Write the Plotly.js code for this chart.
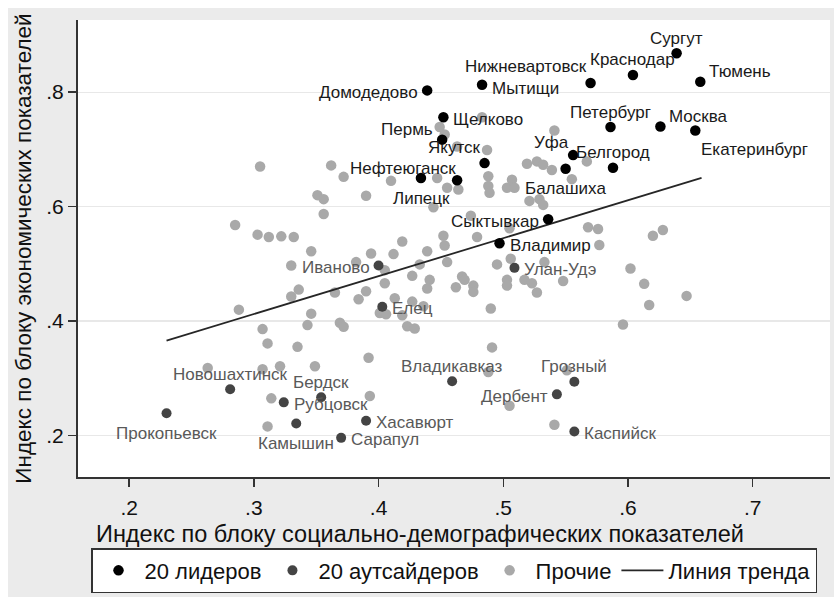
<!DOCTYPE html>
<html><head><meta charset="utf-8">
<script src="https://cdn.plot.ly/plotly-3.0.1.min.js"></script>
<style>html,body{margin:0;padding:0;background:#fff}#chart{position:absolute;left:8px;top:8px;width:826px;height:589px}</style>
</head><body><div id="chart"></div>
<script>
// ---- data ----
const leaderNames = ['Сургут','Краснодар','Тюмень','Нижневартовск','Мытищи','Домодедово','Щелково','Пермь','Петербург','Москва','Екатеринбург','Якутск','Уфа','Белгород','Балашиха','Нефтеюганск','Липецк','Сыктывкар','Владимир'];
const leaderX = [0.639,0.604,0.658,0.570,0.483,0.439,0.452,0.451,0.586,0.626,0.654,0.485,0.556,0.588,0.550,0.434,0.463,0.536,0.497];
const leaderY = [0.868,0.830,0.818,0.816,0.813,0.803,0.756,0.717,0.739,0.740,0.733,0.676,0.690,0.668,0.666,0.650,0.646,0.578,0.536];

const outsiderNames = ['Иваново','Улан-Удэ','Елец','Владикавказ','Грозный','Дербент','Каспийск','Новошахтинск','Прокопьевск','Бердск','Рубцовск','Камышин','Хасавюрт','Сарапул'];
const outsiderX = [0.400,0.509,0.403,0.459,0.557,0.543,0.557,0.281,0.230,0.354,0.324,0.334,0.390,0.370];
const outsiderY = [0.497,0.493,0.425,0.295,0.294,0.272,0.207,0.281,0.239,0.267,0.258,0.221,0.226,0.196];

const otherX = [0.305,0.362,0.372,0.410,0.449,0.453,0.463,0.447,0.455,0.351,0.356,0.390,0.444,0.356,0.285,0.303,0.312,0.322,0.332,0.346,
  0.394,0.412,0.419,0.439,0.452,0.453,0.330,0.382,0.405,0.433,0.455,0.427,0.441,0.405,0.439,0.462,0.336,0.330,0.365,0.390,
  0.384,0.413,0.427,0.288,0.346,0.401,0.406,0.419,0.436,0.369,0.372,0.423,0.429,0.307,0.343,0.311,0.335,0.392,0.263,0.307,
  0.321,0.349,0.393,0.314,0.311,0.495,0.506,0.533,0.548,0.602,0.613,0.617,0.647,0.596,0.467,0.469,0.476,0.476,0.503,0.503,
  0.517,0.523,0.527,0.490,0.491,0.488,0.551,0.505,0.541,0.483,0.541,0.487,0.519,0.527,0.532,0.539,0.567,0.555,0.488,0.488,
  0.489,0.503,0.507,0.509,0.464,0.521,0.529,0.532,0.474,0.479,0.505,0.568,0.576,0.620,0.628,0.577];
const otherY = [0.670,0.672,0.652,0.645,0.739,0.726,0.705,0.650,0.633,0.620,0.613,0.619,0.599,0.587,0.568,0.551,0.547,0.548,0.547,0.522,
  0.518,0.517,0.539,0.522,0.549,0.532,0.497,0.503,0.489,0.499,0.503,0.479,0.472,0.466,0.457,0.459,0.455,0.443,0.450,0.452,
  0.438,0.440,0.434,0.420,0.413,0.414,0.412,0.410,0.426,0.397,0.390,0.391,0.387,0.386,0.393,0.361,0.355,0.336,0.318,0.316,
  0.321,0.321,0.269,0.265,0.216,0.499,0.509,0.503,0.470,0.492,0.465,0.428,0.444,0.394,0.478,0.472,0.462,0.451,0.472,0.462,
  0.472,0.466,0.450,0.422,0.354,0.311,0.314,0.252,0.219,0.756,0.733,0.699,0.675,0.679,0.673,0.664,0.679,0.648,0.653,0.636,
  0.624,0.633,0.647,0.633,0.630,0.610,0.613,0.603,0.584,0.547,0.562,0.564,0.561,0.549,0.559,0.533];

const trendX = [0.230, 0.659];
const trendY = [0.366, 0.650];

const xTickVals = [0.2,0.3,0.4,0.5,0.6,0.7];
const xTickText = ['.2','.3','.4','.5','.6','.7'];
const yTickVals = [0.2,0.4,0.6,0.8];
const yTickText = ['.2','.4','.6','.8'];

const xTitle = 'Индекс по блоку социально-демографических показателей';
const yTitle = 'Индекс по блоку экономических показателей';
const seriesNames = ['20 лидеров','20 аутсайдеров','Прочие','Линия тренда'];

// ---- label placement (style) ----
const labelClock = {
 'Сургут':'12','Краснодар':'12','Тюмень':'2','Нижневартовск':'11h','Мытищи':'3l','Домодедово':'9','Щелково':'3',
 'Пермь':'10','Петербург':'12','Москва':'2','Екатеринбург':'5','Якутск':'11h','Уфа':'11','Белгород':'12',
 'Балашиха':'6','Нефтеюганск':'12w','Липецк':'8','Сыктывкар':'9','Владимир':'3',
 'Иваново':'9','Улан-Удэ':'3','Елец':'3','Владикавказ':'12','Грозный':'12','Дербент':'9','Каспийск':'3',
 'Новошахтинск':'12','Прокопьевск':'6','Бердск':'12','Рубцовск':'3','Камышин':'6','Хасавюрт':'3','Сарапул':'3'
};
const clockPos = {
 '12':['center',0,15], '12w':['center',-18,9], '6':['center',0,-20], '3':['left',9,-2], '3l':['left',9,-4], '9':['right',-8,-2],
 '2':['left',8,10], '11':['right',-3,13], '11h':['right',-3,16], '10':['right',-8,10], '8':['right',-6,-18], '5':['left',5,-19]
};

const FONT = '"Liberation Sans", Arial, sans-serif';
const annotations = [];
function addLabels(names, xs, ys, color) {
  names.forEach((n, i) => {
    const p = clockPos[labelClock[n]];
    annotations.push({x: xs[i], y: ys[i], xref: 'x', yref: 'y', text: n, showarrow: false,
      xanchor: p[0], yanchor: 'middle', xshift: p[1], yshift: p[2], borderpad: 0,
      font: {family: FONT, size: 17, color: color}});
  });
}
addLabels(leaderNames, leaderX, leaderY, '#1a1a1a');
addLabels(outsiderNames, outsiderX, outsiderY, '#595959');

annotations.push({xref: 'paper', yref: 'paper', x: (420-78)/752, y: (483-541)/463, xanchor: 'center', yanchor: 'middle',
  text: xTitle, showarrow: false, font: {family: FONT, size: 23.5, color: '#111'}});

const traces = [
  {type: 'scatter', mode: 'markers', name: seriesNames[2], x: otherX, y: otherY, legendrank: 3,
   marker: {color: '#a9a9a9', size: 10.5, line: {width: 0}}},
  {type: 'scatter', mode: 'lines', name: seriesNames[3], x: trendX, y: trendY, legendrank: 4,
   line: {color: '#262626', width: 1.8}},
  {type: 'scatter', mode: 'markers', name: seriesNames[1], x: outsiderX, y: outsiderY, legendrank: 2,
   marker: {color: '#444444', size: 10, line: {width: 0}}},
  {type: 'scatter', mode: 'markers', name: seriesNames[0], x: leaderX, y: leaderY, legendrank: 1,
   marker: {color: '#000000', size: 10.5, line: {width: 0}}}
];

const layout = {
  width: 826, height: 589,
  margin: {l: 70, r: 4, t: 12, b: 114},
  paper_bgcolor: '#ebebeb', plot_bgcolor: '#ffffff',
  font: {family: FONT, color: '#111'},
  showlegend: true,
  legend: {orientation: 'h', x: 0.5, xanchor: 'center', y: (483-555)/463, yanchor: 'top', itemwidth: 42,
    bgcolor: '#ffffff', bordercolor: '#333333', borderwidth: 1.5, font: {family: FONT, size: 22, color: '#111'}},
  xaxis: {range: [0.159, 0.762], tickvals: xTickVals, ticktext: xTickText, ticks: 'outside', ticklen: 8,
    tickwidth: 1.5, tickcolor: '#333', showgrid: false, zeroline: false, showline: true, linecolor: '#333',
    linewidth: 2, ticklabelstandoff: 3, tickfont: {family: FONT, size: 21, color: '#111'}},
  yaxis: {range: [0.1276, 0.926], tickvals: yTickVals, ticktext: yTickText, ticks: 'outside', ticklen: 8,
    tickwidth: 1.5, tickcolor: '#333', showgrid: true, gridcolor: '#e8e8e8', gridwidth: 1.2, zeroline: false,
    showline: true, linecolor: '#333', linewidth: 2, tickfont: {family: FONT, size: 21, color: '#111'},
    title: {text: yTitle, font: {family: FONT, size: 22.5, color: '#111'}, standoff: 8}},
  annotations: annotations,
  hovermode: false
};

Plotly.newPlot('chart', traces, layout, {displayModeBar: false, staticPlot: true});
</script></body></html>
